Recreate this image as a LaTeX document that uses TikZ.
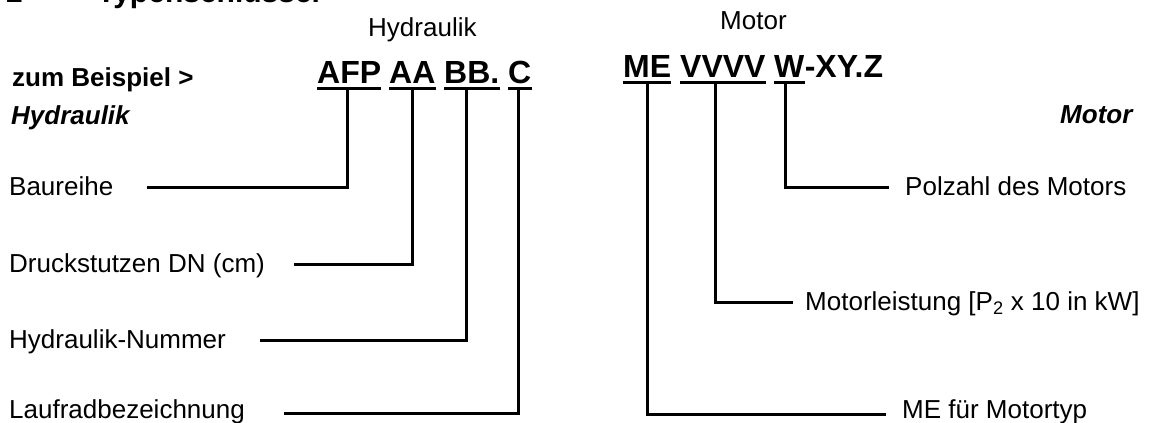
\documentclass[tikz,border=0pt]{standalone}
\usepackage{fontspec}
\setmainfont{Liberation Sans}
\begin{document}
\begin{tikzpicture}[x=1pt,y=-1pt,
  lab/.style={font=\fontsize{26}{30}\selectfont, inner sep=0pt, anchor=base west},
  blab/.style={font=\fontsize{26}{30}\selectfont\bfseries, inner sep=0pt, anchor=base west},
  ilab/.style={font=\fontsize{26}{30}\selectfont\bfseries\itshape, inner sep=0pt, anchor=base west},
  code/.style={font=\fontsize{32}{36}\selectfont\bfseries, inner sep=0pt, anchor=base west},
  ttl/.style={font=\fontsize{30}{34}\selectfont\bfseries, inner sep=0pt, anchor=base west},
  conn/.style={line width=3pt, line join=miter, line cap=butt},
  uline/.style={line width=3pt}]
\useasboundingbox (0,0) rectangle (1152,423);
\clip (0,0) rectangle (1152,423);

% title (cut off at top)
\node[ttl] (tnum) at (6,2) {2};
\node[ttl] (ttext) at (97,2) {Typenschlüssel};

% headings
\node[lab] (hydhead) at (368,36) {Hydraulik};
\node[lab] (mothead) at (720,30) {Motor};
\node[blab] (beisp) at (12,86) {zum Beispiel >};
\node[ilab] (hydit) at (11,124) {Hydraulik};
\node[ilab] (motit) at (1060,123) {Motor};

% hydraulic code
\node[code] (afp) at (317,83) {AFP};
\node[code] (aa) at (389,83) {AA};
\node[code] (bb) at (444,83) {BB.};
\node[code] (cc) at (508,83) {C};
\foreach \n in {afp,aa,bb,cc}
  \draw[uline] ([yshift=-5pt]\n.base west) -- ([yshift=-5pt]\n.base east);

% motor code
\node[code] (me) at (623,77) {ME};
\node[code] (vv) at (680,77) {VVVV};
\node[code] (ww) at (774,77) {W};
\node[code, anchor=base west] (xyz) at (ww.base east) {-XY.Z};
\foreach \n in {me,vv,ww}
  \draw[uline] ([yshift=-5pt]\n.base west) -- ([yshift=-5pt]\n.base east);

% left labels
\node[lab] (bau) at (9,195.5) {Baureihe};
\node[lab] (dru) at (9,272.5) {Druckstutzen DN (cm)};
\node[lab] (hnr) at (9,348.5) {Hydraulik-Nummer};
\node[lab] (lauf) at (9,418.5) {Laufradbezeichnung};

% right labels
\node[lab] (pol) at (905,195.5) {Polzahl des Motors};
\node[lab] (mlei) at (805,310.5) {Motorleistung [P\textsubscript{2} x 10 in kW]};
\node[lab] (metyp) at (902,418.5) {ME für Motortyp};

% connector tops and free ends
\coordinate (tafp) at (347,88);
\coordinate (taa) at (412,88);
\coordinate (tbb) at (466,88);
\coordinate (tcc) at (518,88);
\coordinate (tme) at (647,82);
\coordinate (tvv) at (715,82);
\coordinate (tww) at (785,82);
\coordinate (ebau) at (147,187);
\coordinate (edru) at (294,264);
\coordinate (ehnr) at (260,340);
\coordinate (elauf) at (284,413);
\coordinate (epol) at (889,187);
\coordinate (emlei) at (793,302);
\coordinate (emetyp) at (886,414);

\draw[conn] (tafp) |- (ebau);
\draw[conn] (taa) |- (edru);
\draw[conn] (tbb) |- (ehnr);
\draw[conn] (tcc) |- (elauf);
\draw[conn] (tww) |- (epol);
\draw[conn] (tvv) |- (emlei);
\draw[conn] (tme) |- (emetyp);
\end{tikzpicture}
\end{document}
